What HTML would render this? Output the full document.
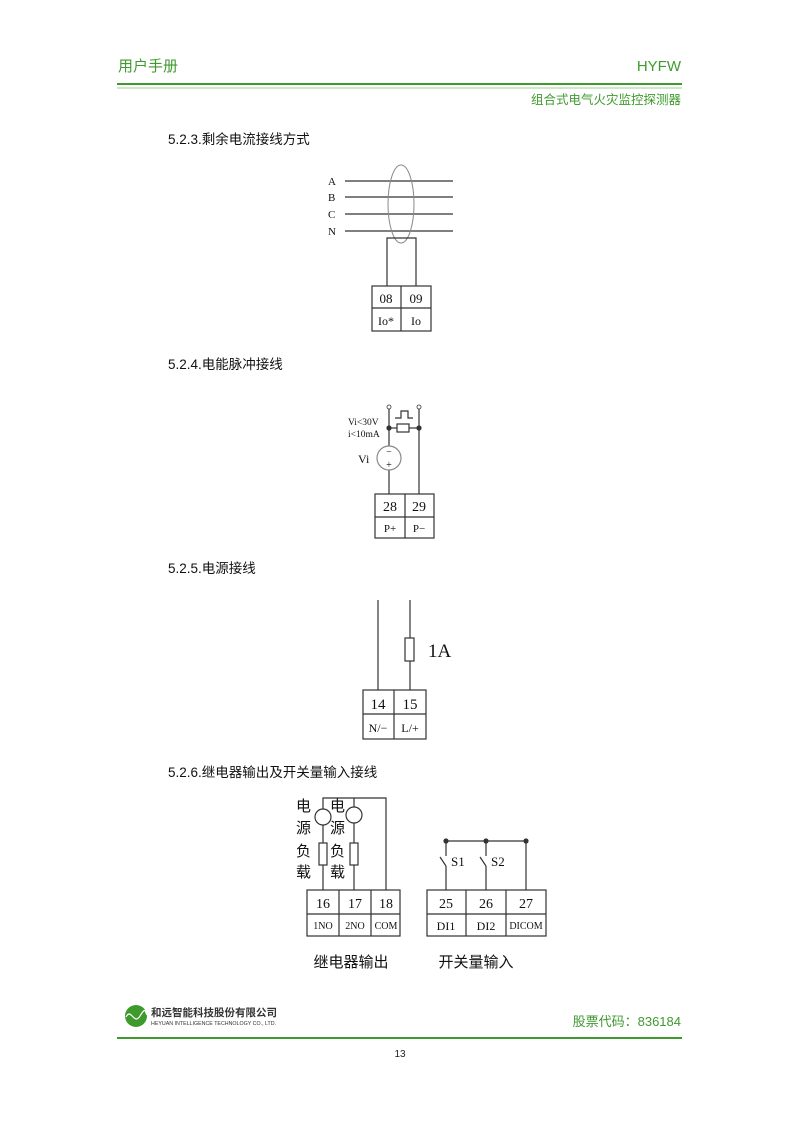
<!DOCTYPE html>
<html><head><meta charset="utf-8"><style>
body{margin:0;background:#fff}
svg{display:block}
.g{fill:#3f9a2e;font-family:"Liberation Sans","Noto Sans CJK SC",sans-serif}
.t{font-family:"Liberation Serif","Noto Serif CJK SC",serif;fill:#111}
.s{font-family:"Liberation Sans","Noto Sans CJK SC",sans-serif;fill:#111}
line,rect,ellipse,circle,path,polyline{stroke:#333;fill:none;stroke-width:1.2}
</style></head><body>
<svg width="800" height="1131" viewBox="0 0 800 1131" xmlns="http://www.w3.org/2000/svg">
<text class="g" x="118" y="71" font-size="15">用户手册</text>
<text class="g" x="681" y="71" font-size="15" text-anchor="end">HYFW</text>
<line x1="117" y1="84" x2="682" y2="84" style="stroke:#3f9a2e;stroke-width:2"/>
<line x1="117" y1="88" x2="682" y2="88" style="stroke:#9ccf8e;stroke-width:1"/>
<text class="g" x="681" y="104" font-size="12.5" text-anchor="end">组合式电气火灾监控探测器</text>

<text class="s" x="168" y="144" font-size="13.5">5.2.3.剩余电流接线方式</text>
<g class="t" font-size="11">
<text x="328" y="185">A</text><text x="328" y="201">B</text><text x="328" y="218">C</text><text x="328" y="235">N</text></g>
<line x1="345" y1="181" x2="453" y2="181"/><line x1="345" y1="197" x2="453" y2="197"/>
<line x1="345" y1="214" x2="453" y2="214"/><line x1="345" y1="231" x2="453" y2="231"/>
<ellipse cx="401" cy="204" rx="13" ry="39" style="stroke:#888;stroke-width:1"/>
<polyline points="387,286 387,238 416,238 416,286"/>
<rect x="372" y="286" width="59" height="45"/><line x1="372" y1="308" x2="431" y2="308"/><line x1="401" y1="286" x2="401" y2="331"/>
<g class="t" font-size="13" text-anchor="middle"><text x="386" y="303">08</text><text x="416" y="303">09</text>
<text x="386" y="325" font-size="12">Io*</text><text x="416" y="325" font-size="12">Io</text></g>

<text class="s" x="168" y="369" font-size="13.5">5.2.4.电能脉冲接线</text>
<circle cx="389" cy="407" r="2" style="stroke-width:0.8"/><circle cx="419" cy="407" r="2" style="stroke-width:0.8"/>
<line x1="389" y1="409" x2="389" y2="446"/><line x1="389" y1="470" x2="389" y2="494"/>
<line x1="419" y1="409" x2="419" y2="494"/>
<line x1="389" y1="428" x2="397" y2="428"/><rect x="397" y="424" width="12" height="8"/><line x1="409" y1="428" x2="419" y2="428"/>
<circle cx="389" cy="428" r="2" style="fill:#333"/><circle cx="419" cy="428" r="2" style="fill:#333"/>
<polyline points="395,418 401,418 401,411 408,411 408,418 413,418"/>
<circle cx="389" cy="458" r="12" style="stroke:#888"/>
<text class="t" x="389" y="455" font-size="10" text-anchor="middle" fill="#666">−</text>
<text class="t" x="389" y="468" font-size="10" text-anchor="middle" fill="#666">+</text>
<g class="t" font-size="9.5"><text x="348" y="425">Vi&lt;30V</text><text x="348" y="437">i&lt;10mA</text></g>
<text class="t" x="358" y="463" font-size="12">Vi</text>
<rect x="375" y="494" width="59" height="44"/><line x1="375" y1="517" x2="434" y2="517"/><line x1="405" y1="494" x2="405" y2="538"/>
<g class="t" text-anchor="middle"><text x="390" y="511" font-size="14">28</text><text x="419" y="511" font-size="14">29</text>
<text x="390" y="532" font-size="11">P+</text><text x="419" y="532" font-size="11">P−</text></g>

<text class="s" x="168" y="573" font-size="13.5">5.2.5.电源接线</text>
<line x1="378" y1="600" x2="378" y2="690"/><line x1="410" y1="600" x2="410" y2="690"/>
<rect x="405" y="638" width="9" height="23" style="fill:#fff"/>
<text class="t" x="428" y="657" font-size="19">1A</text>
<rect x="363" y="690" width="63" height="49"/><line x1="363" y1="714" x2="426" y2="714"/><line x1="394" y1="690" x2="394" y2="739"/>
<g class="t" text-anchor="middle"><text x="378" y="709" font-size="15">14</text><text x="410" y="709" font-size="15">15</text>
<text x="378" y="732" font-size="12">N/−</text><text x="410" y="732" font-size="12">L/+</text></g>

<text class="s" x="168" y="777" font-size="13.5">5.2.6.继电器输出及开关量输入接线</text>
<polyline points="323,890 323,798 386,798 386,890"/>
<line x1="354" y1="798" x2="354" y2="890"/>
<circle cx="323" cy="817" r="8" style="fill:#fff"/><circle cx="354" cy="815" r="8" style="fill:#fff"/>
<rect x="319" y="843" width="8" height="22" style="fill:#fff"/><rect x="350" y="843" width="8" height="22" style="fill:#fff"/>
<g class="s" font-size="15"><text x="296" y="811">电</text><text x="296" y="833">源</text><text x="296" y="856">负</text><text x="296" y="877">载</text>
<text x="330" y="811">电</text><text x="330" y="833">源</text><text x="330" y="856">负</text><text x="330" y="877">载</text></g>
<rect x="307" y="890" width="93" height="46"/><line x1="307" y1="914" x2="400" y2="914"/><line x1="339" y1="890" x2="339" y2="936"/><line x1="371" y1="890" x2="371" y2="936"/>
<g class="t" text-anchor="middle"><text x="323" y="908" font-size="14">16</text><text x="355" y="908" font-size="14">17</text><text x="386" y="908" font-size="14">18</text>
<text x="323" y="929" font-size="10">1NO</text><text x="355" y="929" font-size="10">2NO</text><text x="386" y="929" font-size="10">COM</text></g>
<line x1="446" y1="841" x2="526" y2="841"/>
<line x1="446" y1="841" x2="446" y2="856"/><line x1="440" y1="857" x2="446" y2="866"/><line x1="446" y1="866" x2="446" y2="890"/>
<line x1="486" y1="841" x2="486" y2="856"/><line x1="480" y1="857" x2="486" y2="866"/><line x1="486" y1="866" x2="486" y2="890"/>
<line x1="526" y1="841" x2="526" y2="890"/>
<circle cx="446" cy="841" r="2" style="fill:#333"/><circle cx="486" cy="841" r="2" style="fill:#333"/><circle cx="526" cy="841" r="2" style="fill:#333"/>
<text class="t" x="451" y="866" font-size="13">S1</text><text class="t" x="491" y="866" font-size="13">S2</text>
<rect x="427" y="890" width="119" height="46"/><line x1="427" y1="914" x2="546" y2="914"/><line x1="466" y1="890" x2="466" y2="936"/><line x1="506" y1="890" x2="506" y2="936"/>
<g class="t" text-anchor="middle"><text x="446" y="908" font-size="14">25</text><text x="486" y="908" font-size="14">26</text><text x="526" y="908" font-size="14">27</text>
<text x="446" y="930" font-size="12">DI1</text><text x="486" y="930" font-size="12">DI2</text><text x="526" y="929" font-size="10">DICOM</text></g>
<text class="s" x="351" y="967" font-size="15" text-anchor="middle">继电器输出</text>
<text class="s" x="476" y="967" font-size="15" text-anchor="middle">开关量输入</text>

<circle cx="136" cy="1016" r="11" style="fill:#3f9a2e;stroke:none"/>
<path d="M126 1017 C131 1007,134 1026,140 1016 S145 1012,147 1015" style="stroke:#fff;stroke-width:1.2"/>
<text x="151" y="1016" font-size="10.5" font-weight="bold" fill="#333" font-family="Liberation Sans,Noto Sans CJK SC,sans-serif">和远智能科技股份有限公司</text>
<text x="151" y="1025" font-size="5.3" fill="#333" font-family="Liberation Sans,sans-serif">HEYUAN INTELLIGENCE TECHNOLOGY CO., LTD.</text>
<text class="g" x="681" y="1026" font-size="13" text-anchor="end">股票代码：836184</text>
<line x1="117" y1="1038" x2="682" y2="1038" style="stroke:#3f9a2e;stroke-width:2"/>
<text x="400" y="1057" font-size="10" text-anchor="middle" fill="#222" font-family="Liberation Sans,sans-serif">13</text>
</svg>
</body></html>
